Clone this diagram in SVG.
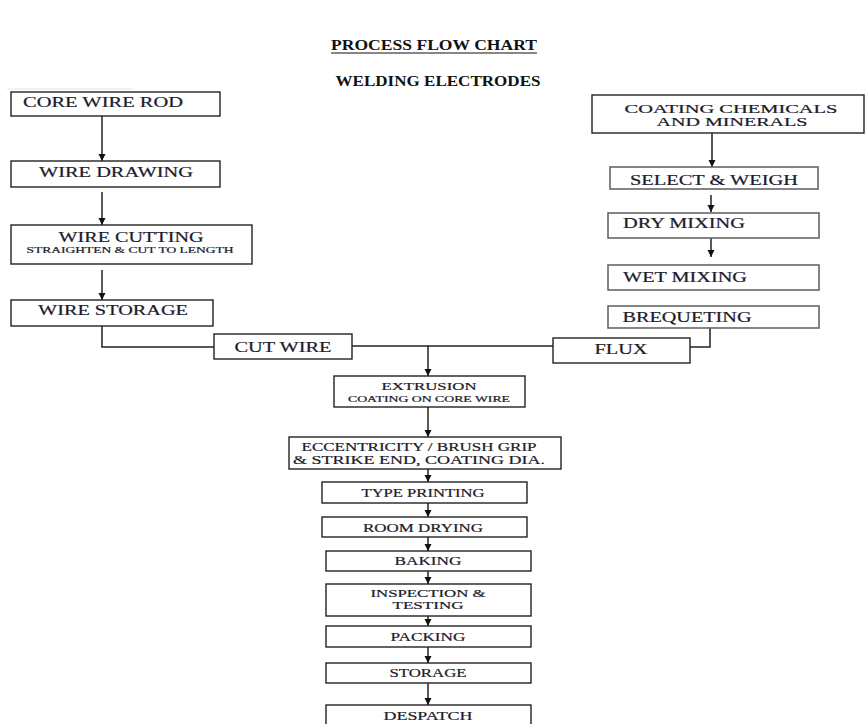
<svg xmlns="http://www.w3.org/2000/svg" width="865" height="724" viewBox="0 0 865 724">
<defs>
<marker id="ah" markerUnits="userSpaceOnUse" markerWidth="8" markerHeight="8" refX="7" refY="3.5" orient="auto">
<path d="M0,0 L7,3.5 L0,7 z" fill="#111"/>
</marker>
<style>
.bx{fill:#fff;stroke:#222;stroke-width:1.4}
.bg{fill:#fff;stroke:#666;stroke-width:1.6}
.t{font-family:"Liberation Serif","Times New Roman",serif;fill:#1b1b2b;stroke:#1b1b2b;stroke-width:0.2;text-anchor:middle}
.ti{font-family:"Liberation Serif","Times New Roman",serif;font-weight:bold;fill:#111;text-anchor:middle}
.c{fill:none;stroke:#222;stroke-width:1.5}
.a{fill:none;stroke:#222;stroke-width:1.5;marker-end:url(#ah)}
</style>
</defs>
<rect width="865" height="724" fill="#fff"/>
<line x1="7" y1="89" x2="133" y2="89" stroke="#e4e4e4" stroke-width="1"/>
<g id="title">
<text class="ti" x="434" y="50" font-size="15" textLength="206" lengthAdjust="spacingAndGlyphs">PROCESS FLOW CHART</text>
<line x1="331" y1="53" x2="537" y2="53" stroke="#111" stroke-width="1.2"/>
<text class="ti" x="438" y="86" font-size="15" textLength="205" lengthAdjust="spacingAndGlyphs">WELDING ELECTRODES</text>
</g>
<g id="connectors">
<line class="a" x1="102" y1="116" x2="102" y2="161"/>
<line class="a" x1="102" y1="192" x2="102" y2="225"/>
<line class="a" x1="102" y1="270" x2="102" y2="300"/>
<polyline class="c" points="102,326 102,347 214,347"/>
<line class="c" x1="352" y1="346" x2="553" y2="346"/>
<polyline class="c" points="690,347 710,347 710,328"/>
<line class="a" x1="428" y1="346" x2="428" y2="376"/>
<line class="a" x1="428" y1="407" x2="428" y2="437"/>
<line class="a" x1="428" y1="469" x2="428" y2="482"/>
<line class="a" x1="428" y1="503" x2="428" y2="517"/>
<line class="a" x1="428" y1="537" x2="428" y2="551"/>
<line class="a" x1="428" y1="571" x2="428" y2="584"/>
<line class="a" x1="428" y1="616" x2="428" y2="626"/>
<line class="a" x1="428" y1="647" x2="428" y2="663"/>
<line class="a" x1="428" y1="683" x2="428" y2="705"/>
<line class="a" x1="712" y1="133" x2="712" y2="167"/>
<line class="a" x1="711" y1="195" x2="711" y2="212"/>
<line class="a" x1="711" y1="238" x2="711" y2="257"/>
</g>
<g id="core-wire-rod"><rect class="bx" x="11" y="92" width="209" height="24"/><text class="t" x="103" y="107" font-size="14" textLength="160" lengthAdjust="spacingAndGlyphs">CORE WIRE ROD</text></g>
<g id="wire-drawing"><rect class="bx" x="11" y="161" width="209" height="26"/><text class="t" x="116" y="177" font-size="14" textLength="154" lengthAdjust="spacingAndGlyphs">WIRE DRAWING</text></g>
<g id="wire-cutting"><rect class="bx" x="11" y="225" width="241" height="39"/><text class="t" x="131" y="242" font-size="14" textLength="145" lengthAdjust="spacingAndGlyphs">WIRE CUTTING</text><text class="t" x="130" y="253" font-size="8" stroke-width="0.1" textLength="207" lengthAdjust="spacingAndGlyphs">STRAIGHTEN &amp; CUT TO LENGTH</text></g>
<g id="wire-storage"><rect class="bx" x="11" y="300" width="202" height="26"/><text class="t" x="113" y="315" font-size="14" textLength="150" lengthAdjust="spacingAndGlyphs">WIRE STORAGE</text></g>
<g id="cut-wire"><rect class="bx" x="214" y="334" width="138" height="25"/><text class="t" x="283" y="352" font-size="14" textLength="97" lengthAdjust="spacingAndGlyphs">CUT WIRE</text></g>
<g id="flux"><rect class="bx" x="553" y="338" width="137" height="25"/><text class="t" x="621" y="354" font-size="14" textLength="53" lengthAdjust="spacingAndGlyphs">FLUX</text></g>
<g id="coating-chemicals"><rect class="bx" x="592" y="95" width="272" height="38"/><text class="t" x="731" y="113" font-size="12" textLength="213" lengthAdjust="spacingAndGlyphs">COATING CHEMICALS</text><text class="t" x="732" y="126" font-size="12" textLength="151" lengthAdjust="spacingAndGlyphs">AND MINERALS</text></g>
<g id="select-weigh"><rect class="bg" x="610" y="167" width="208" height="22"/><text class="t" x="714" y="185" font-size="14" textLength="168" lengthAdjust="spacingAndGlyphs">SELECT &amp; WEIGH</text></g>
<g id="dry-mixing"><rect class="bg" x="608" y="213" width="211" height="25"/><text class="t" x="684" y="228" font-size="14" textLength="122" lengthAdjust="spacingAndGlyphs">DRY MIXING</text></g>
<g id="wet-mixing"><rect class="bg" x="608" y="265" width="211" height="25"/><text class="t" x="685" y="282" font-size="14" textLength="124" lengthAdjust="spacingAndGlyphs">WET MIXING</text></g>
<g id="brequeting"><rect class="bg" x="608" y="306" width="211" height="22"/><text class="t" x="687" y="322" font-size="14" textLength="129" lengthAdjust="spacingAndGlyphs">BREQUETING</text></g>
<g id="extrusion"><rect class="bx" x="334" y="376" width="191" height="31"/><text class="t" x="429" y="390" font-size="11" textLength="95" lengthAdjust="spacingAndGlyphs">EXTRUSION</text><text class="t" x="429" y="402" font-size="8" stroke-width="0.1" textLength="162" lengthAdjust="spacingAndGlyphs">COATING ON CORE WIRE</text></g>
<g id="eccentricity"><rect class="bx" x="289" y="437" width="272" height="32"/><text class="t" x="419" y="451" font-size="12" textLength="235" lengthAdjust="spacingAndGlyphs">ECCENTRICITY / BRUSH GRIP</text><text class="t" x="419" y="464" font-size="12" textLength="252" lengthAdjust="spacingAndGlyphs">&amp; STRIKE END, COATING  DIA.</text></g>
<g id="type-printing"><rect class="bx" x="322" y="482" width="205" height="21"/><text class="t" x="423" y="497" font-size="12" textLength="123" lengthAdjust="spacingAndGlyphs">TYPE PRINTING</text></g>
<g id="room-drying"><rect class="bx" x="322" y="517" width="205" height="20"/><text class="t" x="423" y="532" font-size="12" textLength="120" lengthAdjust="spacingAndGlyphs">ROOM DRYING</text></g>
<g id="baking"><rect class="bx" x="326" y="551" width="205" height="20"/><text class="t" x="428" y="565" font-size="12" textLength="67" lengthAdjust="spacingAndGlyphs">BAKING</text></g>
<g id="inspection"><rect class="bx" x="326" y="584" width="205" height="32"/><text class="t" x="428" y="597" font-size="11" textLength="115" lengthAdjust="spacingAndGlyphs">INSPECTION &amp;</text><text class="t" x="428" y="609" font-size="11" textLength="71" lengthAdjust="spacingAndGlyphs">TESTING</text></g>
<g id="packing"><rect class="bx" x="326" y="626" width="205" height="21"/><text class="t" x="428" y="641" font-size="12" textLength="75" lengthAdjust="spacingAndGlyphs">PACKING</text></g>
<g id="storage"><rect class="bx" x="326" y="663" width="205" height="20"/><text class="t" x="428" y="677" font-size="12" textLength="77" lengthAdjust="spacingAndGlyphs">STORAGE</text></g>
<g id="despatch"><rect class="bx" x="326" y="705" width="205" height="26"/><text class="t" x="428" y="720" font-size="12" textLength="89" lengthAdjust="spacingAndGlyphs">DESPATCH</text></g>
</svg>
